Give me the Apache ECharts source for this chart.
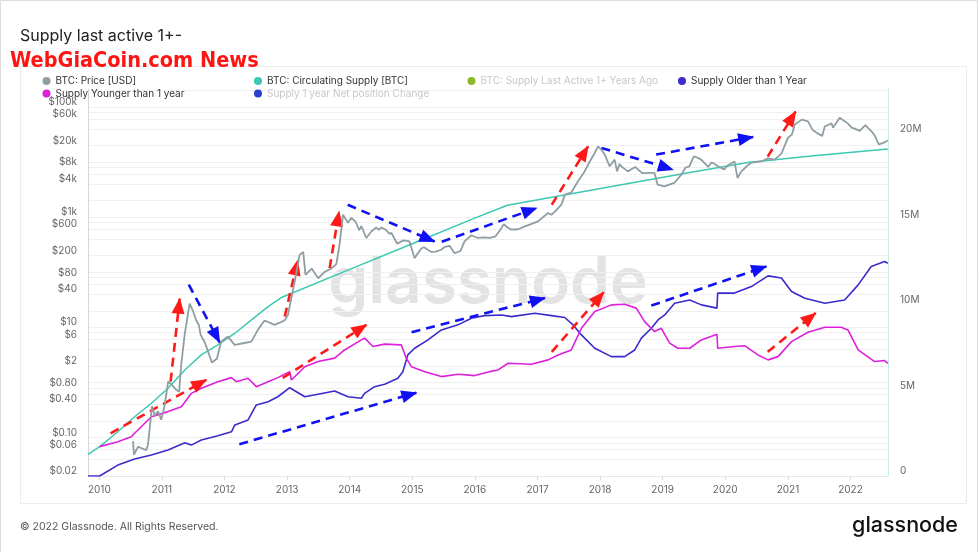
<!DOCTYPE html>
<html><head><meta charset="utf-8">
<script src="https://cdn.jsdelivr.net/npm/echarts@6/dist/echarts.min.js"></script>
<style>html,body{margin:0;padding:0;background:#fff}#c{width:979px;height:552px}</style>
</head><body><div id="c"></div>
<script>
// ---------- data ----------
const priceUSD = [
['2010-07-17',0.086],['2010-07-22',0.049],['2010-08-15',0.068],['2010-10-02',0.059],['2010-10-12',0.074],
['2010-11-05',0.37],['2010-11-20',0.25],['2010-12-10',0.30],['2010-12-28',0.21],['2011-01-18',0.39],
['2011-02-07',1.05],['2011-02-28',0.90],['2011-03-25',0.74],['2011-04-12',0.68],['2011-04-24',2.1],
['2011-05-14',7.4],['2011-06-12',27],['2011-07-01',20],['2011-07-20',13.5],['2011-08-05',11],
['2011-08-15',7.4],['2011-09-10',5.2],['2011-10-20',2.3],['2011-11-18',2.7],['2011-12-13',5.5],
['2012-01-21',6.8],['2012-03-01',4.8],['2012-04-27',5.2],['2012-06-06',5.5],['2012-07-14',9.0],
['2012-08-22',13.3],['2012-10-20',11.1],['2012-12-17',13.3],['2013-01-06',17],['2013-02-14',68],
['2013-03-15',207],['2013-04-05',234],['2013-04-18',90],['2013-05-24',117],['2013-07-01',78],
['2013-08-08',102],['2013-09-16',117],['2013-10-15',141],['2013-11-03',320],['2013-11-23',1110],
['2013-12-02',1160],['2013-12-22',790],['2014-01-11',975],['2014-02-05',820],['2014-02-25',580],
['2014-03-10',690],['2014-04-08',420],['2014-05-08',555],['2014-06-05',650],['2014-06-20',590],
['2014-07-05',650],['2014-08-01',590],['2014-08-20',500],['2014-09-02',518],['2014-10-05',330],
['2014-10-30',364],['2014-11-15',380],['2014-12-16',364],
['2015-01-14',181],['2015-02-23',271],['2015-03-10',285],['2015-04-23',234],['2015-05-20',237],
['2015-06-21',259],['2015-07-10',290],['2015-08-07',302],['2015-09-05',222],['2015-10-10',245],
['2015-11-02',364],['2015-12-12',470],['2016-01-19',420],['2016-02-20',430],['2016-03-28',420],
['2016-05-01',450],['2016-06-05',640],['2016-06-18',750],['2016-07-10',650],['2016-08-02',595],
['2016-09-10',605],['2016-10-19',682],['2016-11-20',740],['2017-01-04',840],['2017-03-03',1190],
['2017-03-23',1110],['2017-04-14',1280],['2017-05-20',1690],['2017-06-10',2570],['2017-07-16',2790],
['2017-08-25',4490],['2017-10-03',6790],['2017-10-23',9040],['2017-12-01',14700],['2017-12-20',19400],
['2018-01-08',16900],['2018-01-28',13700],['2018-02-26',8400],['2018-03-27',11100],['2018-04-10',6800],
['2018-04-25',9300],['2018-05-04',8400],['2018-06-12',6800],['2018-07-25',8200],['2018-08-09',7400],
['2018-09-05',6300],['2018-10-06',6400],['2018-11-14',6400],['2018-12-03',3900],
['2019-01-11',3640],['2019-03-10',4190],['2019-04-20',5940],['2019-05-15',8000],['2019-06-06',8400],
['2019-06-25',11500],['2019-07-05',12800],['2019-08-14',11100],['2019-09-24',8200],['2019-10-11',9770],
['2019-10-27',9500],['2019-11-18',8400],['2019-12-27',7400],['2020-01-15',8700],['2020-02-24',10300],
['2020-03-13',5170],['2020-04-05',6800],['2020-05-10',8700],['2020-06-02',9770],['2020-07-30',10300],
['2020-09-06',11700],['2020-10-16',11100],['2020-11-24',14300],['2021-01-01',27600],['2021-01-25',32000],
['2021-02-10',48100],['2021-03-23',59200],['2021-04-28',55100],['2021-05-26',38200],['2021-06-24',33300],
['2021-07-20',29800],['2021-08-04',44400],['2021-09-13',50600],['2021-09-21',42000],['2021-10-30',64100],
['2021-11-10',66600],['2021-12-16',50600],['2022-01-10',42000],['2022-01-26',40700],['2022-02-24',37000],
['2022-03-29',47000],['2022-04-05',44400],['2022-05-05',36000],['2022-05-23',30200],['2022-06-15',21000],
['2022-06-20',19700],['2022-07-20',22900],['2022-08-07',24700]
];
// supply series, millions of BTC
const circulatingSupplyM = [
['2009-10-27',1.27],['2010-01-03',1.72],['2010-04-19',2.59],['2010-07-26',3.47],['2010-11-01',4.26],
['2011-02-06',5.14],['2011-05-15',6.21],['2011-08-19',7.09],['2011-11-24',7.68],['2012-03-02',8.36],
['2012-06-07',9.14],['2012-09-12',9.92],['2012-11-28',10.45],['2014-01-01',12.1],['2015-01-01',13.6],
['2016-01-01',15.1],['2016-07-09',15.85],['2017-07-01',16.5],['2018-07-01',17.15],['2019-06-01',17.75],
['2020-05-11',18.35],['2021-06-01',18.75],['2022-08-07',19.15]
];
const olderThan1yM = [
['2009-10-27',0],['2010-01-03',0],['2010-04-19',0.64],['2010-07-26',0.99],['2010-11-01',1.23],
['2011-02-06',1.52],['2011-05-15',1.95],['2011-06-22',1.81],['2011-08-19',2.11],['2011-11-24',2.36],
['2012-02-11',2.59],['2012-03-02',2.99],['2012-05-18',3.28],['2012-07-05',4.16],['2012-09-12',4.35],
['2012-11-08',4.64],['2013-01-16',5.17],['2013-04-14',4.64],['2013-06-30',4.79],['2013-10-05',4.98],
['2013-12-22',4.64],['2014-03-10',4.55],['2014-03-29',4.84],['2014-05-26',5.23],['2014-07-24',5.37],
['2014-10-09',5.72],['2014-11-07',6.11],['2014-12-06',7.09],['2015-01-15',7.48],['2015-04-03',7.97],
['2015-06-20',8.55],['2015-09-25',8.85],['2015-12-12',9.24],['2016-02-27',9.39],['2016-06-05',9.43],
['2016-08-02',9.33],['2016-12-16',9.53],['2017-03-24',9.39],['2017-06-09',9.28],['2017-07-27',8.85],
['2017-09-14',8.26],['2017-12-01',7.48],['2018-03-08',6.99],['2018-05-24',6.99],['2018-07-22',7.38],
['2018-08-30',8.07],['2018-10-27',8.65],['2018-12-05',9.14],['2019-01-13',9.43],['2019-03-12',10.12],
['2019-06-08',10.31],['2019-08-15',10.02],['2019-11-14',9.83],['2019-11-18',10.71],['2020-02-24',10.71],
['2020-06-02',11.09],['2020-09-07',11.72],['2020-11-24',11.59],['2021-01-22',10.8],['2021-04-10',10.41],
['2021-08-05',10.12],['2021-11-28',10.31],['2022-02-15',11.19],['2022-05-02',12.27],['2022-07-19',12.56],
['2022-08-07',12.46]
];
const youngerThan1yM = [
['2010-01-03',1.72],['2010-04-19',2.01],['2010-07-07',2.30],['2010-07-26',2.50],['2010-11-01',3.47],
['2011-02-06',3.77],['2011-04-25',4.06],['2011-06-22',4.84],['2011-08-19',5.14],['2011-11-24',5.52],
['2012-02-11',5.76],['2012-03-11',5.52],['2012-05-18',5.72],['2012-07-05',5.23],['2012-09-12',5.52],
['2012-11-08',5.76],['2013-01-16',6.11],['2013-01-26',5.62],['2013-04-14',6.40],['2013-06-30',6.70],
['2013-10-05',6.90],['2013-12-02',7.38],['2014-03-10',7.97],['2014-03-29',8.07],['2014-05-17',7.58],
['2014-07-24',7.72],['2014-10-29',7.68],['2014-11-27',6.90],['2014-12-27',6.40],['2015-03-15',6.11],
['2015-06-20',5.82],['2015-09-25',5.96],['2015-12-31',5.88],['2016-03-27',6.11],['2016-05-16',6.21],
['2016-07-13',6.60],['2016-11-26',6.54],['2017-03-04',6.80],['2017-05-01',7.09],['2017-07-17',7.38],
['2017-09-14',8.65],['2017-12-01',9.63],['2018-03-08',10.02],['2018-05-24',10.06],['2018-07-31',9.83],
['2018-09-18',9.04],['2018-11-14',8.46],['2018-12-24',8.65],['2019-02-11',7.78],['2019-03-31',7.48],
['2019-06-08',7.48],['2019-08-15',7.97],['2019-11-14',8.30],['2019-11-18',7.48],['2020-02-24',7.58],
['2020-04-23',7.63],['2020-07-10',7.09],['2020-09-07',6.80],['2020-11-04',6.99],['2021-01-22',7.87],
['2021-04-28',8.42],['2021-08-05',8.71],['2021-11-08',8.71],['2021-12-17',8.55],['2022-02-15',7.38],
['2022-05-22',6.70],['2022-07-19',6.76],['2022-08-07',6.60]
];
// annotation arrows: [start, end] as [date, supply in M]
const redArrows = [
[['2010-03-08',2.50],['2011-09-17',5.63]],
[['2011-02-21',5.53],['2011-04-15',10.38]],
[['2012-12-18',9.34],['2013-03-03',12.62]],
[['2013-09-06',12.17],['2013-10-31',15.49]],
[['2012-12-06',5.74],['2014-04-09',8.85]],
[['2017-03-25',15.88],['2017-10-23',19.30]],
[['2017-03-25',7.27],['2018-01-22',10.76]],
[['2020-09-05',18.70],['2021-02-15',21.34]],
[['2020-09-05',7.27],['2021-06-12',9.54]]
];
const blueArrows = [
[['2011-06-07',11.20],['2011-12-04',7.83]],
[['2012-03-28',1.86],['2015-01-25',4.88]],
[['2013-12-20',15.88],['2015-05-11',13.73]],
[['2015-06-22',13.72],['2016-12-27',15.69]],
[['2014-12-28',8.42],['2017-02-13',10.42]],
[['2018-01-09',19.21],['2019-03-02',17.94]],
[['2018-11-24',18.82],['2020-06-12',19.85]],
[['2018-10-27',9.98],['2020-08-28',12.27]],
[['2021-05-27',21.71],['2022-08-18',20.77]],
[['2021-12-08',11.98],['2022-08-28',13.73]]
];
const priceTickLabels = [0.02,0.06,0.1,0.4,0.8,2,6,10,40,80,200,600,1000,4000,8000,20000,60000,100000];
const priceGridValues = [0.02,0.04,0.06,0.08,0.1,0.2,0.4,0.6,0.8,1,2,4,6,8,10,20,40,60,80,100,200,400,600,800,
  1000,2000,4000,6000,8000,10000,20000,40000,60000,80000,100000,200000];
const supplyTickLabels = [0,5,10,15,20];
const yearTicks = ['2010-01-01','2011-01-01','2012-01-01','2013-01-01','2014-01-01','2015-01-01','2016-01-01',
  '2017-01-01','2018-01-01','2019-01-01','2020-01-01','2021-01-01','2022-01-01'];
const seriesNames = {
  price:'BTC: Price [USD]', circ:'BTC: Circulating Supply [BTC]', last:'BTC: Supply Last Active 1+ Years Ago',
  older:'Supply Older than 1 Year', younger:'Supply Younger than 1 year', net:'Supply 1 year Net position Change'
};

// ---------- chart ----------
const PRICE_MIN = 0.02, PRICE_MAX = 213000, SUPPLY_MAX = 22.66;
const X_MIN = '2009-10-27', X_MAX = '2022-08-08';
const FONT = 'Inter';
const ts = s => Date.parse(s + 'T00:00:00Z');
const toXY = arr => arr.map(d => [ts(d[0]), d[1]]);
function fmtPrice(p){
  if (p >= 1000) return '$' + Math.round(p/1000) + 'k';
  if (p >= 1) return '$' + Math.round(p);
  return '$' + (Math.round(p*100)/100).toFixed(2);
}
const chart = echarts.init(document.getElementById('c'), null, {renderer:'canvas'});
const legendDefs = [
  {name:seriesNames.price, left:42.5, top:76, muted:false},
  {name:seriesNames.circ, left:254, top:76, muted:false},
  {name:seriesNames.last, left:467.5, top:76, muted:true},
  {name:seriesNames.older, left:678, top:76, muted:false},
  {name:seriesNames.younger, left:42.5, top:88.5, muted:false},
  {name:seriesNames.net, left:254, top:88.5, muted:true}
];
function lineSeries(name, data, color, yIdx, width, z){
  return {type:'line', name, data: toXY(data), yAxisIndex:yIdx, showSymbol:false, symbol:'none', z,
    lineStyle:{color, width}, itemStyle:{color}, emphasis:{disabled:true}, silent:true};
}
function arrowSeries(name, arrows, color){
  return {type:'line', name, data:[], yAxisIndex:1, clip:false, silent:true, z:10,
    markLine:{silent:true, symbol:['none','triangle'], symbolSize:[13,16], symbolOffset:[[0,0],[0,7]],
      animation:false, label:{show:false}, emphasis:{disabled:true},
      lineStyle:{color, type:[9,6], width:2.6},
      data: arrows.map(a => [{coord:[ts(a[0][0]), a[0][1]]},{coord:[ts(a[1][0]), a[1][1]]}])}};
}
const option = {
  animation:false,
  textStyle:{fontFamily:FONT},
  graphic:[
    {type:'rect', shape:{x:0.5,y:0.5,width:977,height:600}, style:{fill:null, stroke:'#dcdcdc', lineWidth:1}, z:-10, silent:true},
    {type:'rect', shape:{x:20.5,y:66.5,width:946,height:437}, style:{fill:null, stroke:'#ececec', lineWidth:1}, z:-10, silent:true},
    {type:'text', x:20, y:28, style:{text:'Supply last active 1+-', font:'400 16px Inter', fill:'#222'}, silent:true},
    {type:'text', x:10, y:50, style:{text:'WebGiaCoin.com News', font:'bold 21.5px "DejaVu Sans Condensed"', fill:'#ff1414', verticalAlign:'top'}, silent:true},
    {type:'text', x:488, y:252, style:{text:'glassnode', font:'600 64px Inter', fill:'#e3e3e3', align:'center', verticalAlign:'top'}, z:-5, silent:true},
    {type:'text', x:20, y:521, style:{text:'© 2022 Glassnode. All Rights Reserved.', font:'400 10.5px Inter', fill:'#555'}, silent:true},
    {type:'text', x:958, y:515, style:{text:'glassnode', font:'500 21.5px Inter', fill:'#111', align:'right'}, silent:true}
  ],
  legend: legendDefs.map(d => ({
    data:[{name:d.name, textStyle:{color: d.muted ? '#c8c8c8' : '#333'}}],
    left:d.left, top:d.top, padding:0, icon:'circle', itemWidth:8, itemHeight:8, itemGap:0,
    selectedMode:false, textStyle:{fontSize:10, fontFamily:FONT}
  })),
  grid:{left:88, right:91, top:89, bottom:76, containLabel:false},
  xAxis:{type:'value', min:ts(X_MIN), max:ts(X_MAX),
    axisLine:{show:true, lineStyle:{color:'#e8e8e8'}},
    axisTick:{show:true, customValues:yearTicks.map(ts), length:4, lineStyle:{color:'#ddd'}},
    axisLabel:{customValues:yearTicks.map(ts), color:'#666', fontSize:10, margin:9, fontFamily:FONT,
      formatter:v => String(new Date(v).getUTCFullYear())},
    splitLine:{show:false}},
  yAxis:[
    {type:'log', logBase:10, min:PRICE_MIN, max:PRICE_MAX, position:'left',
      axisLine:{show:true, lineStyle:{color:'#d2d8da'}}, axisTick:{show:false},
      axisLabel:{show:false}, splitLine:{show:false}},
    {type:'value', min:0, max:SUPPLY_MAX, position:'right',
      axisLine:{show:true, lineStyle:{color:'#c3efe7'}}, axisTick:{show:false},
      axisLabel:{customValues:supplyTickLabels, color:'#666', fontSize:10, margin:12, verticalAlign:'bottom', fontFamily:FONT,
        formatter:v => v === 0 ? '0' : v + 'M'},
      splitLine:{show:false}},
    {type:'value', position:'left', min:Math.log10(PRICE_MIN), max:Math.log10(PRICE_MAX),
      axisLine:{show:false},
      axisTick:{show:false, customValues:priceGridValues.map(Math.log10)},
      axisLabel:{customValues:priceTickLabels.map(Math.log10), color:'#666', fontSize:10, margin:11,
        verticalAlign:'bottom', fontFamily:FONT, formatter:v => fmtPrice(Math.pow(10, v))},
      splitLine:{show:true, lineStyle:{color:'#f0f0f0', width:1}}}
  ],
  series:[
    lineSeries(seriesNames.circ, circulatingSupplyM, '#3cc8b2', 1, 1.5, 3),
    lineSeries(seriesNames.last, [], '#8db82b', 1, 1.5, 3),
    lineSeries(seriesNames.net, [], '#2b3fcf', 1, 1.5, 3),
    lineSeries(seriesNames.older, olderThan1yM, '#3b2bcb', 1, 1.6, 4),
    lineSeries(seriesNames.younger, youngerThan1yM, '#dc20dc', 1, 1.6, 4),
    lineSeries(seriesNames.price, priceUSD, '#8f9ea3', 0, 1.8, 5),
    arrowSeries('redArrows', redArrows, '#ff1a1a'),
    arrowSeries('blueArrows', blueArrows, '#1010f5')
  ]
};
chart.setOption(option);
</script>
</body></html>
